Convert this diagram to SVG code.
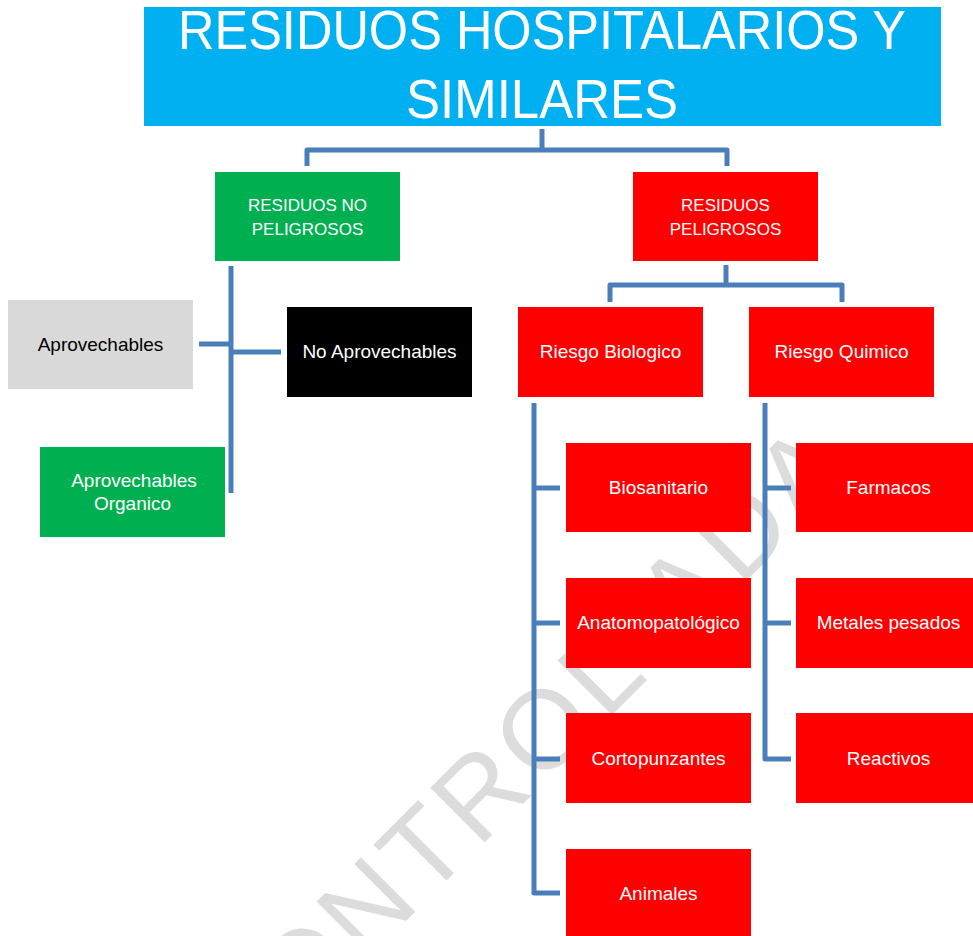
<svg xmlns="http://www.w3.org/2000/svg" width="973" height="936" viewBox="0 0 973 936">
<style>
.lbl{font-family:"Liberation Sans",Arial,sans-serif;font-size:19px;text-anchor:middle;fill:#fff}
.cap{font-size:17px}
.dark{fill:#000}
.title{font-family:"Liberation Sans",Arial,sans-serif;font-size:55px;fill:#fff}
.wm{font-family:"Liberation Sans",Arial,sans-serif;font-size:112px;fill:#dcdcdc}
.con{fill:none;stroke:#4A7EBB;stroke-width:5;stroke-linejoin:round;stroke-linecap:butt}
</style>
<rect width="973" height="936" fill="#fff"/>
<g id="watermark">
<text class="wm" transform="translate(450,877) rotate(-45)" x="-299 -212 -121 -34 40 127 220 329 410 497">CONTROLADA</text>
</g>
<g id="connectors">
<path class="con" d="M542,129 V150"/>
<path class="con" d="M307,166 V150 H727 V166"/>
<path class="con" d="M231,266 V493"/>
<path class="con" d="M199,344 H231"/>
<path class="con" d="M231,352 H281"/>
<path class="con" d="M726,265 V285"/>
<path class="con" d="M610,302 V285 H842 V302"/>
<path class="con" d="M534,403 V893 H560"/>
<path class="con" d="M534,488 H560 M534,623 H560 M534,759 H560"/>
<path class="con" d="M765,403 V759 H791"/>
<path class="con" d="M765,488 H791 M765,623 H791"/>
</g>
<g id="title">
<rect x="144" y="7" width="797" height="119" fill="#00B0F0"/>
<text class="title" x="178" y="49" textLength="728" lengthAdjust="spacingAndGlyphs">RESIDUOS HOSPITALARIOS Y</text>
<text class="title" x="406" y="118" textLength="272" lengthAdjust="spacingAndGlyphs">SIMILARES</text>
</g>
<g id="no-peligrosos">
<rect x="215" y="172" width="185" height="89" fill="#00B050"/>
<text class="lbl cap" x="307.5" y="211">RESIDUOS NO</text>
<text class="lbl cap" x="307.5" y="235">PELIGROSOS</text>
</g>
<g id="peligrosos">
<rect x="633" y="172" width="185" height="89" fill="#FF0000"/>
<text class="lbl cap" x="725.5" y="211">RESIDUOS</text>
<text class="lbl cap" x="725.5" y="235">PELIGROSOS</text>
</g>
<g id="aprovechables">
<rect x="8" y="300" width="185" height="89" fill="#D9D9D9"/>
<text class="lbl dark" x="100.5" y="351">Aprovechables</text>
</g>
<g id="no-aprovechables">
<rect x="287" y="307" width="185" height="90" fill="#000"/>
<text class="lbl" x="379.5" y="358">No Aprovechables</text>
</g>
<g id="aprovechables-organico">
<rect x="40" y="447" width="185" height="90" fill="#00B050"/>
<text class="lbl" x="134" y="487">Aprovechables</text>
<text class="lbl" x="132.5" y="510">Organico</text>
</g>
<g id="riesgo-biologico">
<rect x="518" y="307" width="185" height="90" fill="#FF0000"/>
<text class="lbl" x="610.5" y="358">Riesgo Biologico</text>
</g>
<g id="riesgo-quimico">
<rect x="749" y="307" width="185" height="90" fill="#FF0000"/>
<text class="lbl" x="841.5" y="358">Riesgo Quimico</text>
</g>
<g id="biosanitario">
<rect x="566" y="443" width="185" height="89" fill="#FF0000"/>
<text class="lbl" x="658.5" y="494">Biosanitario</text>
</g>
<g id="anatomopatologico">
<rect x="566" y="578" width="185" height="90" fill="#FF0000"/>
<text class="lbl" x="658.5" y="629">Anatomopatológico</text>
</g>
<g id="cortopunzantes">
<rect x="566" y="713" width="185" height="90" fill="#FF0000"/>
<text class="lbl" x="658.5" y="765">Cortopunzantes</text>
</g>
<g id="animales">
<rect x="566" y="849" width="185" height="90" fill="#FF0000"/>
<text class="lbl" x="658.5" y="900">Animales</text>
</g>
<g id="farmacos">
<rect x="796" y="443" width="185" height="89" fill="#FF0000"/>
<text class="lbl" x="888.5" y="494">Farmacos</text>
</g>
<g id="metales-pesados">
<rect x="796" y="578" width="185" height="90" fill="#FF0000"/>
<text class="lbl" x="888.5" y="629">Metales pesados</text>
</g>
<g id="reactivos">
<rect x="796" y="713" width="185" height="90" fill="#FF0000"/>
<text class="lbl" x="888.5" y="765">Reactivos</text>
</g>
</svg>
